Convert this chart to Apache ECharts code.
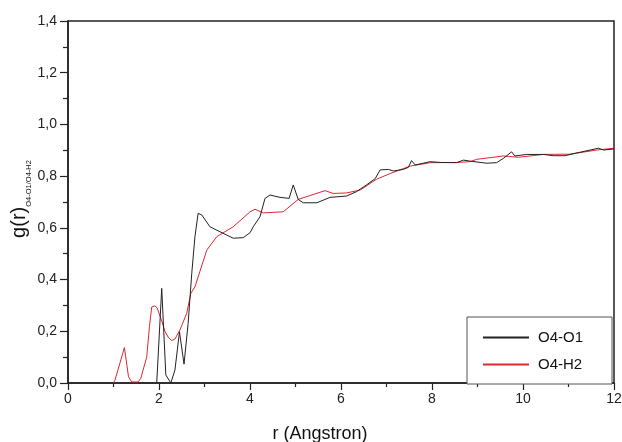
<!DOCTYPE html>
<html>
<head>
<meta charset="utf-8">
<script src="https://cdn.jsdelivr.net/npm/echarts@6/dist/echarts.min.js"></script>
<style>
  html, body { margin: 0; padding: 0; background: #fff; }
  #chart { width: 622px; height: 442px; }
</style>
</head>
<body>
<div id="chart"></div>
<script>
// Radial distribution function g(r) for the O4-O1 and O4-H2 pairs
const seriesNames = ['O4-O1', 'O4-H2'];

// O4-O1: r (Angstrom) and g(r)
const rO1 = [1.95, 2.06, 2.15, 2.26, 2.35, 2.45, 2.55, 2.64, 2.72, 2.79, 2.86, 2.94, 3.12, 3.34, 3.63, 3.85, 4.00, 4.07, 4.22, 4.33,
             4.44, 4.66, 4.86, 4.95, 5.06, 5.17, 5.47, 5.76, 6.12, 6.34, 6.56, 6.75, 6.86, 7.04, 7.15, 7.37, 7.48, 7.55, 7.63, 7.96,
             8.18, 8.54, 8.69, 8.84, 9.20, 9.42, 9.57, 9.75, 9.82, 10.08, 10.45, 10.67, 10.92, 11.14, 11.66, 11.77, 12.00];
const gO1 = [0.000, 0.366, 0.031, 0.000, 0.050, 0.198, 0.073, 0.230, 0.424, 0.566, 0.656, 0.650, 0.604, 0.585, 0.560, 0.562, 0.581, 0.604, 0.643, 0.714,
             0.727, 0.718, 0.714, 0.766, 0.710, 0.697, 0.697, 0.718, 0.723, 0.740, 0.766, 0.790, 0.824, 0.826, 0.820, 0.826, 0.834, 0.860, 0.843, 0.856,
             0.853, 0.852, 0.862, 0.858, 0.850, 0.852, 0.869, 0.894, 0.878, 0.884, 0.884, 0.879, 0.879, 0.888, 0.908, 0.901, 0.905];

// O4-H2: r (Angstrom) and g(r)
const rH2 = [1.00, 1.03, 1.14, 1.24, 1.33, 1.40, 1.54, 1.60, 1.65, 1.73, 1.79, 1.84, 1.91, 1.96, 2.06, 2.13, 2.20, 2.28, 2.35, 2.46,
             2.61, 2.70, 2.79, 2.86, 3.05, 3.27, 3.63, 4.00, 4.11, 4.29, 4.73, 5.06, 5.65, 5.83, 6.12, 6.42, 6.78, 7.08, 7.52, 7.96,
             8.54, 8.84, 8.98, 9.57, 9.90, 10.45, 11.03, 11.62, 12.00];
const gH2 = [0.000, 0.010, 0.076, 0.137, 0.024, 0.004, 0.004, 0.018, 0.050, 0.100, 0.218, 0.294, 0.298, 0.290, 0.240, 0.200, 0.178, 0.164, 0.170, 0.205,
             0.270, 0.347, 0.372, 0.410, 0.514, 0.566, 0.604, 0.662, 0.672, 0.658, 0.662, 0.710, 0.744, 0.733, 0.735, 0.746, 0.788, 0.810, 0.839, 0.852,
             0.853, 0.856, 0.865, 0.878, 0.873, 0.884, 0.885, 0.901, 0.908];

// Axis settings
const xMin = 0, xMax = 12, xStep = 2;
const yMin = 0, yMax = 1.4, yStep = 0.2;

const zip = (xs, ys) => xs.map((x, i) => [x, ys[i]]);

const axisColor = '#222';
const font = '"Liberation Sans", Arial, sans-serif';

const chart = echarts.init(document.getElementById('chart'), null, { renderer: 'canvas' });

chart.setOption({
  animation: false,
  backgroundColor: '#fff',
  textStyle: { fontFamily: font },
  grid: {
    left: 68, right: 8, top: 21, bottom: 59,
    outerBoundsMode: 'none',
    containLabel: false,
    show: true, borderColor: axisColor, borderWidth: 1.5, backgroundColor: 'transparent'
  },
  legend: {
    data: seriesNames,
    orient: 'vertical',
    left: 467, top: 317,
    padding: [13, 29, 12, 15],
    itemGap: 12,
    itemWidth: 46,
    itemHeight: 14,
    itemStyle: { opacity: 0 },
    borderColor: '#555',
    borderWidth: 1,
    backgroundColor: '#fff',
    textStyle: { fontFamily: font, fontSize: 15, color: '#111', padding: [0, 0, 0, 4] }
  },
  xAxis: {
    type: 'value',
    min: xMin, max: xMax, interval: xStep,
    name: 'r (Angstron)',
    nameLocation: 'middle',
    nameGap: 42,
    nameMoveOverlap: false,
    nameTextStyle: { fontFamily: font, fontSize: 18, color: '#111', padding: [0, 42, 0, 0] },
    axisLine: { show: true, lineStyle: { color: axisColor, width: 1.5 } },
    axisTick: { show: true, length: 7, lineStyle: { color: axisColor, width: 1.2 } },
    minorTick: { show: true, splitNumber: 2, length: 4, lineStyle: { color: axisColor, width: 1.2 } },
    axisLabel: { fontFamily: font, fontSize: 14, color: '#222', margin: 9 },
    splitLine: { show: false }
  },
  yAxis: {
    type: 'value',
    min: yMin, max: yMax, interval: yStep,
    name: '{g|g(r)}{s|O4-O1/O4-H2}',
    nameLocation: 'middle',
    nameGap: 39,
    nameMoveOverlap: false,
    nameTextStyle: {
      fontFamily: font, color: '#111',
      padding: [0, 0, 0, 6],
      rich: {
        g: { fontFamily: font, fontSize: 20, color: '#111' },
        s: { fontFamily: font, fontSize: 7.5, color: '#111', verticalAlign: 'bottom', padding: [0, 0, -4, 0] }
      }
    },
    axisLine: { show: true, lineStyle: { color: axisColor, width: 1.5 } },
    axisTick: { show: true, length: 8, lineStyle: { color: axisColor, width: 1.2 } },
    minorTick: { show: true, splitNumber: 2, length: 5, lineStyle: { color: axisColor, width: 1.2 } },
    axisLabel: {
      fontFamily: font, fontSize: 14, color: '#222', margin: 11,
      formatter: v => v.toFixed(1).replace('.', ',')
    },
    splitLine: { show: false }
  },
  series: [
    {
      name: seriesNames[0],
      type: 'line',
      data: zip(rO1, gO1),
      symbol: 'none',
      lineStyle: { color: '#222', width: 1 },
      itemStyle: { color: '#222' },
      z: 3
    },
    {
      name: seriesNames[1],
      type: 'line',
      data: zip(rH2, gH2),
      symbol: 'none',
      lineStyle: { color: '#e0262e', width: 1 },
      itemStyle: { color: '#e0262e' },
      z: 2
    }
  ]
});
</script>
</body>
</html>
